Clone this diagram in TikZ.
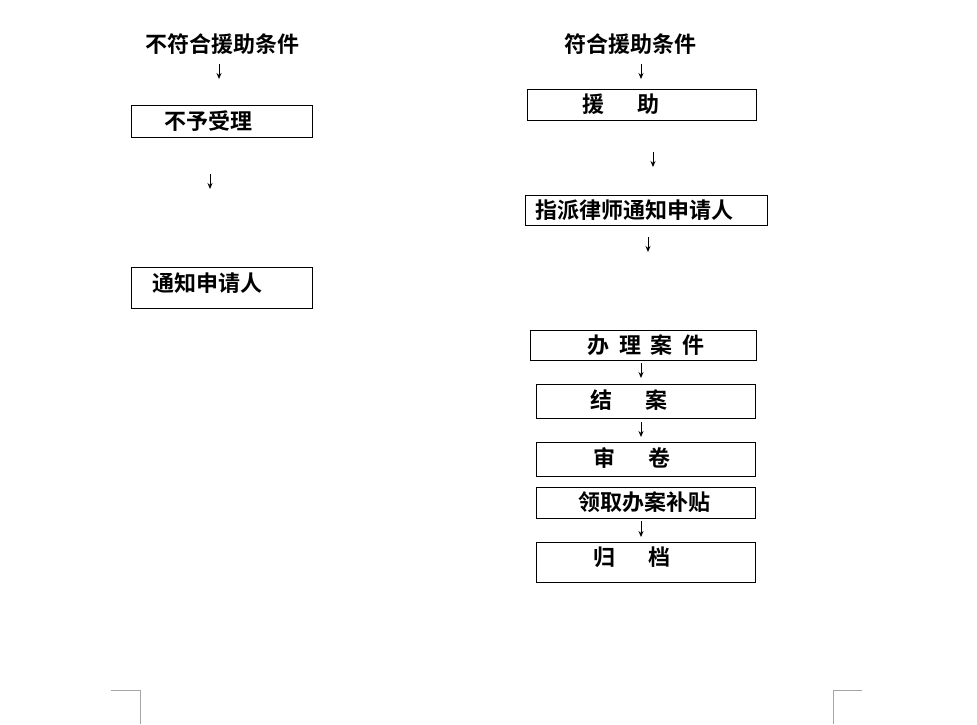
\documentclass[tikz,border=0pt]{standalone}
\usepackage{fontspec}
\setmainfont{Noto Sans CJK SC}[BoldFont={* Bold}]
\usetikzlibrary{arrows.meta}
\begin{document}
\begin{tikzpicture}[x=1pt,y=-1pt,
  bx/.style={draw,line width=0.8pt},
  tx/.style={font=\fontsize{22}{24}\selectfont\bfseries,inner sep=0pt},
  ar/.style={line width=0.9pt,-{Stealth[length=6pt,width=5pt]}},
  mk/.style={draw=gray!70,line width=0.6pt}]
\useasboundingbox (0,0) rectangle (977,724);
\node[tx] (l0) at (222,44) {不符合援助条件};
\draw[ar] (219,64) coordinate(a1) -- (219,79) coordinate(a2);
\draw[bx] (131,105) rectangle (312,137);
\node[tx,anchor=west] (l1) at (164,121) {不予受理};
\draw[ar] (210,174) coordinate(a3) -- (210,189) coordinate(a4);
\draw[bx] (131,267) rectangle (312,308);
\node[tx,anchor=west] (l2) at (152,283) {通知申请人};
\node[tx] (r0) at (630,44) {符合援助条件};
\draw[ar] (641,64) -- (641,79);
\draw[bx] (527,89) rectangle (756,120);
\node[tx,anchor=west] (r1) at (582,104) {援\hspace{1.5em}助};
\draw[ar] (653,152) -- (653,167);
\draw[bx] (525,195) rectangle (767,225);
\node[tx,anchor=west] (r2) at (535,210) {指派律师通知申请人};
\draw[ar] (648,237) -- (648,252);
\draw[bx] (530,330) rectangle (756,360);
\node[tx,anchor=west] (r3) at (587,345) {办\hspace{0.45em}理\hspace{0.45em}案\hspace{0.45em}件};
\draw[ar] (641,363) -- (641,378);
\draw[bx] (536,384) rectangle (755,418);
\node[tx,anchor=west] (r4) at (590,400) {结\hspace{1.5em}案};
\draw[ar] (641,422) -- (641,437);
\draw[bx] (536,442) rectangle (755,476);
\node[tx,anchor=west] (r5) at (593,458) {审\hspace{1.5em}卷};
\draw[bx] (536,487) rectangle (755,518);
\node[tx,anchor=west] (r6) at (578,502) {领取办案补贴};
\draw[ar] (641,521) -- (641,537);
\draw[bx] (536,542) rectangle (755,582);
\node[tx,anchor=west] (r7) at (593,557) {归\hspace{1.5em}档};
\draw[mk] (111,690) -- (140,690) -- (140,724);
\draw[mk] (862,690) -- (833,690) -- (833,724);
\end{tikzpicture}
\end{document}
